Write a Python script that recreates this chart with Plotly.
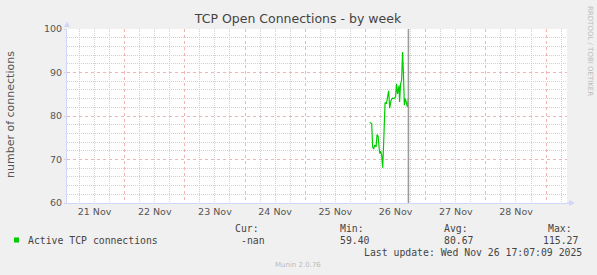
import plotly.graph_objects as go
from datetime import datetime, timedelta

# ---- data ----
times = [
    "2025-11-26 01:40", "2025-11-26 02:28", "2025-11-26 02:52", "2025-11-26 03:16",
    "2025-11-26 03:40", "2025-11-26 04:14", "2025-11-26 04:37", "2025-11-26 05:01",
    "2025-11-26 05:40", "2025-11-26 06:04", "2025-11-26 06:28", "2025-11-26 06:52",
    "2025-11-26 07:16", "2025-11-26 07:49", "2025-11-26 08:20", "2025-11-26 08:51",
    "2025-11-26 09:15", "2025-11-26 09:39", "2025-11-26 10:12", "2025-11-26 10:42",
    "2025-11-26 11:24", "2025-11-26 12:00", "2025-11-26 12:24", "2025-11-26 12:48",
    "2025-11-26 13:24", "2025-11-26 13:36", "2025-11-26 14:00", "2025-11-26 14:24",
    "2025-11-26 14:48", "2025-11-26 15:12", "2025-11-26 15:30", "2025-11-26 15:54",
    "2025-11-26 16:18", "2025-11-26 16:42", "2025-11-26 17:06",
]
connections = [
    78.5, 78.3, 72.9, 72.4,
    73.3, 72.9, 75.7, 75.4,
    71.4, 71.9, 71.0, 68.1,
    74.0, 83.1, 82.8, 84.9,
    85.8, 81.8, 83.6, 84.1,
    84.0, 84.4, 87.4, 85.1,
    87.0, 83.2, 87.4, 88.2,
    94.7, 88.6, 82.5, 84.0,
    82.8, 82.1, 84.0,
]
series_name = "Active TCP connections"
stat_headers = ["Cur:", "Min:", "Avg:", "Max:"]
stat_values = ["-nan", "59.40", "80.67", "115.27"]
last_update = "2025-11-26 17:07:09"
last_update_text = "Last update: Wed Nov 26 17:07:09 2025"
x_start, x_end = "2025-11-21 01:02", "2025-11-29 08:20"
y_range = [60, 100]
title_text = "TCP Open Connections - by week"
y_title = "number of connections"

# ---- layout geometry (pixels) ----
W, H = 597, 275
L, R, T, B = 67, 30, 29, 72
PW, PH = W - L - R, H - T - B


def px(x):
    return (x - L) / PW


def py(y):
    return (H - B - y) / PH


GREEN = "#00cc00"
FONT = "#555555"
AXIS = "#cfd6f8"
MGRID = "#efb4b4"
GRID = "#d0d0d0"
DOT = "1px,1px"

# minor grid positions that do not coincide with major ones
day0 = datetime(2025, 11, 21)
x_minor = [(day0 + timedelta(hours=6 * k)).strftime("%Y-%m-%d %H:%M")
           for k in range(0, 40) if k % 4 != 0]
y_minor = [v for v in range(60, 101, 2) if v % 10 != 0]

fig = go.Figure()
fig.add_trace(go.Scatter(x=times, y=connections, mode="lines",
                         line=dict(color=GREEN, width=1.2), name=series_name,
                         showlegend=False))

fig.add_vline(x=last_update, line=dict(color="#999999", width=1.5))

fig.update_layout(
    width=W, height=H,
    margin=dict(l=L, r=R, t=T, b=B),
    paper_bgcolor="#f0f0f0", plot_bgcolor="#ffffff",
    font=dict(family="DejaVu Sans", color=FONT, size=9.5),
    title=dict(text=title_text, x=298 / W, xanchor="center", xref="container",
               y=1 - 19 / H, yanchor="middle", yref="container",
               font=dict(family="DejaVu Sans", size=12.5, color="#444444")),
    xaxis=dict(type="date", range=[x_start, x_end],
               tick0="2025-11-21", dtick=86400000, tickformat="%d %b",
               ticklabelmode="period",
               showgrid=True, gridcolor=MGRID, griddash="dot", gridwidth=1,
               minor=dict(tickmode="array", tickvals=x_minor, showgrid=True,
                          gridcolor=GRID, griddash=DOT, gridwidth=1),
               showline=True, linecolor=AXIS, linewidth=1,
               ticks="", zeroline=False,
               tickfont=dict(size=9.5, color=FONT)),
    yaxis=dict(range=y_range, dtick=10, tick0=60,
               showgrid=True, gridcolor=MGRID, griddash="dot", gridwidth=1,
               minor=dict(tickmode="array", tickvals=y_minor, showgrid=True,
                          gridcolor=GRID, griddash=DOT, gridwidth=1),
               showline=True, linecolor=AXIS, linewidth=1,
               ticks="outside", ticklen=2, tickcolor=AXIS,
               zeroline=False, tickfont=dict(size=9.5, color=FONT)),
)

# axis arrows
fig.add_shape(type="path", xref="paper", yref="paper",
              path=f"M {px(64)} {py(27)} L {px(67)} {py(21.5)} L {px(70)} {py(27)} Z",
              fillcolor=AXIS, line=dict(width=0))
fig.add_shape(type="path", xref="paper", yref="paper",
              path=f"M {px(567)} {py(203)} L {px(570)} {py(203)} Z",
              line=dict(color=AXIS, width=1))
fig.add_shape(type="path", xref="paper", yref="paper",
              path=f"M {px(569)} {py(200)} L {px(575)} {py(203)} L {px(569)} {py(206)} Z",
              fillcolor=AXIS, line=dict(width=0))

ann = []
ann.append(dict(text=y_title, x=px(11), y=py(115), xref="paper", yref="paper",
                textangle=-90, showarrow=False, xanchor="center", yanchor="middle",
                font=dict(family="DejaVu Sans", size=11, color=FONT)))
ann.append(dict(text="RRDTOOL / TOBI OETIKER", x=px(590), y=py(51), xref="paper",
                yref="paper", textangle=90, showarrow=False, xanchor="center",
                yanchor="middle", font=dict(family="DejaVu Sans", size=7, color="#bbbbbb")))

mono = dict(family="DejaVu Sans Mono", size=9.8, color="#444444")
fig.add_shape(type="rect", xref="paper", yref="paper",
              x0=px(14), x1=px(19), y0=py(242.5), y1=py(237.5),
              fillcolor=GREEN, line=dict(width=0))
ann.append(dict(text=series_name, x=px(26), y=py(240), xref="paper", yref="paper",
                showarrow=False, xanchor="left", yanchor="middle", font=mono))
hdr_x = [233, 338, 442, 546]
val_x = [239, 338, 442, 541]
for h, hx in zip(stat_headers, hdr_x):
    ann.append(dict(text=h, x=px(hx), y=py(228.5), xref="paper", yref="paper",
                    showarrow=False, xanchor="left", yanchor="middle", font=mono))
for v, vx in zip(stat_values, val_x):
    ann.append(dict(text=v, x=px(vx), y=py(240), xref="paper", yref="paper",
                    showarrow=False, xanchor="left", yanchor="middle", font=mono))
ann.append(dict(text=last_update_text, x=px(362), y=py(252), xref="paper", yref="paper",
                showarrow=False, xanchor="left", yanchor="middle", font=mono))
ann.append(dict(text="Munin 2.0.76", x=px(298), y=py(264.5), xref="paper", yref="paper",
                showarrow=False, xanchor="center", yanchor="middle",
                font=dict(family="DejaVu Sans", size=7, color="#bbbbbb")))
fig.update_layout(annotations=ann)

fig.write_html("out.html")
